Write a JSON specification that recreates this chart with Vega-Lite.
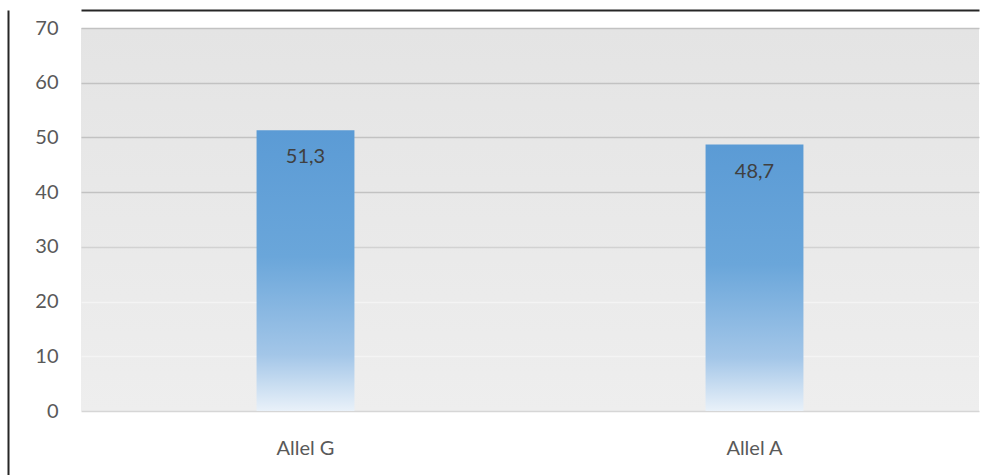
{
  "$schema": "https://vega.github.io/schema/vega-lite/v6.json",
  "width": 898,
  "height": 465,
  "autosize": {"type": "none"},
  "padding": {"left": 81, "top": 10, "right": 14, "bottom": 0},
  "background": "#ffffff",
  "config": {
    "view": {
      "stroke": null,
      "fill": {
        "gradient": "linear",
        "x1": 0, "y1": 0, "x2": 0, "y2": 1,
        "stops": [
          {"offset": 0, "color": "#ffffff"},
          {"offset": 0.0386, "color": "#ffffff"},
          {"offset": 0.0388, "color": "#e4e4e4"},
          {"offset": 0.862, "color": "#eeeeee"},
          {"offset": 0.8625, "color": "#ffffff"},
          {"offset": 1, "color": "#ffffff"}
        ]
      }
    },
    "font": "Lato",
    "axis": {"labelFont": "Lato", "labelColor": "#595959", "titleFont": "Lato"}
  },
  "data": {
    "values": [
      {"allele": "Allel G", "freq": 51.3, "label": "51,3"},
      {"allele": "Allel A", "freq": 48.7, "label": "48,7"}
    ]
  },
  "layer": [
    {
      "mark": {
        "type": "bar",
        "width": {"band": 0.218},
        "fill": {
          "gradient": "linear",
          "x1": 0, "y1": 0, "x2": 0, "y2": 1,
          "stops": [
            {"offset": 0, "color": "#5b9bd5"},
            {"offset": 0.45, "color": "#6aa6da"},
            {"offset": 0.8, "color": "#a3c6e8"},
            {"offset": 1, "color": "#e9f1f9"}
          ]
        }
      },
      "encoding": {
        "x": {
          "field": "allele",
          "type": "nominal",
          "sort": null,
          "scale": {"paddingInner": 0, "paddingOuter": 0},
          "axis": {
            "orient": "bottom",
            "title": null,
            "domain": false,
            "ticks": false,
            "labelAngle": 0,
            "labelFontSize": 20,
            "labelPadding": 3,
            "offset": -40
          }
        },
        "y": {
          "field": "freq",
          "type": "quantitative",
          "scale": {"domain": [-11.697, 73.29], "nice": false, "zero": false},
          "axis": {
            "values": [0, 10, 20, 30, 40, 50, 60, 70],
            "title": null,
            "offset": 73,
            "domainColor": "#262626",
            "domainWidth": 2,
            "ticks": false,
            "labelPadding": -50,
            "labelFontSize": 20,
            "grid": true,
            "gridWidth": 1.5,
            "gridColor": {
              "condition": [
                {"test": "datum.value === 0", "value": "#d6d6d6"},
                {"test": "datum.value <= 20", "value": "#f4f4f4"},
                {"test": "datum.value <= 30", "value": "#d2d2d2"}
              ],
              "value": "#c2c2c2"
            }
          }
        },
        "y2": {"datum": 0}
      }
    },
    {
      "mark": {
        "type": "text",
        "baseline": "middle",
        "dy": 27,
        "fontSize": 20,
        "color": "#404040"
      },
      "encoding": {
        "x": {
          "field": "allele",
          "type": "nominal",
          "sort": null,
          "axis": {
            "orient": "top",
            "title": null,
            "labels": false,
            "ticks": false,
            "grid": false,
            "domain": true,
            "domainColor": "#262626",
            "domainWidth": 2
          }
        },
        "y": {"field": "freq", "type": "quantitative"},
        "text": {"field": "label"}
      }
    }
  ]
}
